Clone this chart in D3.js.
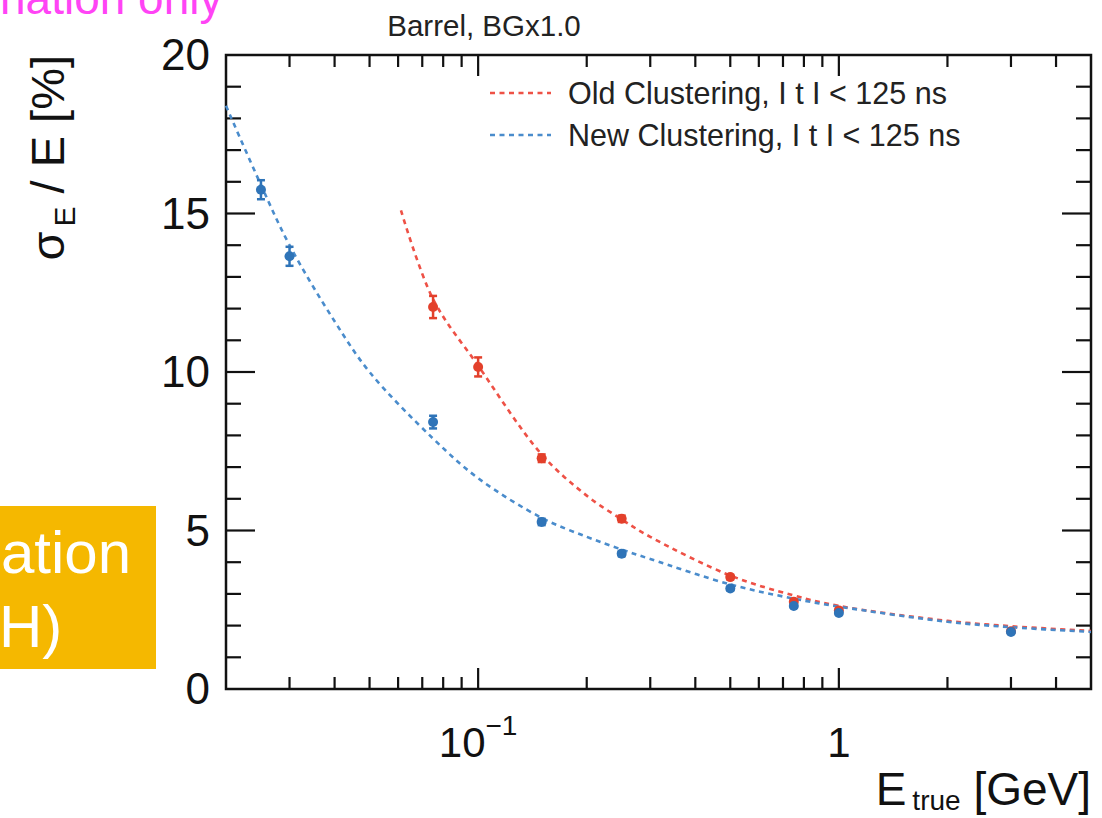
<!DOCTYPE html>
<html><head><meta charset="utf-8">
<script src="https://cdn.jsdelivr.net/npm/d3@7"></script>
<style>body{margin:0;background:#fff;} svg{display:block;font-family:"Liberation Sans",Arial,sans-serif;}</style>
</head><body>
<svg id="c" width="1102" height="818"></svg>
<script>
// ---- data ----
const newE    = [0.025, 0.03, 0.075, 0.15, 0.25, 0.5, 0.75, 1, 3];
const newRes  = [15.75, 13.65, 8.42, 5.27, 4.27, 3.17, 2.62, 2.4, 1.8];
const newErr  = [0.3, 0.3, 0.2, 0.1, 0.08, 0.06, 0.05, 0.05, 0.05];
const oldE    = [0.075, 0.1, 0.15, 0.25, 0.5, 0.75, 1, 3];
const oldRes  = [12.05, 10.16, 7.28, 5.37, 3.53, 2.75, 2.48, 1.82];
const oldErr  = [0.35, 0.3, 0.12, 0.1, 0.07, 0.06, 0.05, 0.05];
// fit curves
const newFitE = [0.02, 0.025, 0.03, 0.04, 0.05, 0.075, 0.1, 0.15, 0.2, 0.25, 0.3, 0.5, 0.75, 1, 2, 3, 5];
const newFitY = [18.4, 15.9, 14.0, 11.6, 10.0, 7.9, 6.65, 5.4, 4.8, 4.4, 4.1, 3.3, 2.85, 2.6, 2.12, 1.95, 1.8];
const oldFitE = [0.0611, 0.075, 0.1, 0.15, 0.2, 0.25, 0.3, 0.5, 0.75, 1, 2, 3, 5];
const oldFitY = [15.1, 12.3, 10.2, 7.4, 6.1, 5.35, 4.8, 3.58, 2.95, 2.62, 2.15, 1.98, 1.83];
const yTicks  = [0, 5, 10, 15, 20];
const seriesNames = ["Old Clustering, I t I < 125 ns", "New Clustering, I t I < 125 ns"];

const redPt = "#e3402b", redLn = "#ee5146";
const bluePt = "#2f74b8", blueLn = "#4a8ccc";

const svg = d3.select("#c");
const L = 226, R = 1091, T = 55, B = 689;
const x = d3.scaleLog().domain([0.02, 5]).range([L, R]);
const y = d3.scaleLinear().domain([0, 20]).range([B, T]);

// top-left pink text (cropped slide overlay)
svg.append("text").attr("x", 0).attr("y", 14).attr("font-size", 46)
  .attr("fill", "#ff44f5").text("nation only");

// title
svg.append("text").attr("x", 484).attr("y", 36).attr("text-anchor", "middle")
  .attr("font-size", 29.5).attr("fill", "#222").text("Barrel, BGx1.0");

// ticks: x (bottom and top)
const minor = [];
[0.01, 0.1, 1].forEach(d => { for (let k = 1; k <= 9; k++) { const v = d * k; if (v >= 0.02 && v <= 5) minor.push(v); } });
const g = svg.append("g").attr("stroke", "#111").attr("stroke-width", 2.2);
minor.forEach(v => {
  const major = Math.abs(Math.log10(v) - Math.round(Math.log10(v))) < 1e-9;
  const len = major ? 21 : 12;
  const px = x(v);
  if (px <= L + 1 || px >= R - 1) return;
  g.append("line").attr("x1", px).attr("x2", px).attr("y1", B).attr("y2", B - len);
  g.append("line").attr("x1", px).attr("x2", px).attr("y1", T).attr("y2", T + len);
});
// y ticks
d3.range(0, 21, 1).forEach(v => {
  const len = v % 5 === 0 ? 29 : 15;
  const py = y(v);
  if (v === 0 || v === 20) return;
  g.append("line").attr("x1", L).attr("x2", L + len).attr("y1", py).attr("y2", py);
  g.append("line").attr("x1", R).attr("x2", R - len).attr("y1", py).attr("y2", py);
});
svg.append("rect").attr("x", L).attr("y", T).attr("width", R - L).attr("height", B - T)
  .attr("fill", "none").attr("stroke", "#111").attr("stroke-width", 2.5);

// tick labels
yTicks.forEach(v => {
  svg.append("text").attr("x", 210).attr("y", y(v) + 15).attr("text-anchor", "end")
    .attr("font-size", 44).attr("fill", "#111").text(v);
});
const t1 = svg.append("text").attr("x", x(0.1)).attr("y", 757).attr("text-anchor", "middle")
  .attr("font-size", 42).attr("fill", "#111");
t1.append("tspan").text("10");
t1.append("tspan").attr("font-size", 28).attr("dy", -22).text("\u22121");
svg.append("text").attr("x", x(1)).attr("y", 757).attr("text-anchor", "middle")
  .attr("font-size", 42).attr("fill", "#111").text("1");

// axis titles
const xt = svg.append("text").attr("x", R).attr("y", 805).attr("text-anchor", "end")
  .attr("font-size", 46).attr("fill", "#111");
xt.append("tspan").text("E");
xt.append("tspan").attr("font-size", 28).attr("dy", 5).attr("dx", 6).text("true");
xt.append("tspan").attr("dy", -5).text(" [GeV]");

const yt = svg.append("text").attr("transform", "translate(64,55) rotate(-90)")
  .attr("text-anchor", "end").attr("font-size", 47).attr("fill", "#111");
yt.append("tspan").text("\u03c3");
yt.append("tspan").attr("font-size", 30).attr("dy", 11).attr("dx", 5).text("E");
yt.append("tspan").attr("dy", -11).text(" / E [%]");

// fit curves
const line = d3.line().x(d => x(d[0])).y(d => y(d[1])).curve(d3.curveCatmullRom);
svg.append("path").datum(oldFitE.map((e, i) => [e, oldFitY[i]])).attr("d", line)
  .attr("fill", "none").attr("stroke", redLn).attr("stroke-width", 2.6).attr("stroke-dasharray", "5,4.5");
svg.append("path").datum(newFitE.map((e, i) => [e, newFitY[i]])).attr("d", line)
  .attr("fill", "none").attr("stroke", blueLn).attr("stroke-width", 2.6).attr("stroke-dasharray", "5,4.5");

// points with error bars
function drawPts(E, V, Er, col) {
  const gp = svg.append("g");
  E.forEach((e, i) => {
    const px = x(e), py = y(V[i]), hi = y(V[i] + Er[i]), lo = y(V[i] - Er[i]);
    gp.append("line").attr("x1", px).attr("x2", px).attr("y1", hi).attr("y2", lo)
      .attr("stroke", col).attr("stroke-width", 2.5);
    gp.append("line").attr("x1", px - 4).attr("x2", px + 4).attr("y1", hi).attr("y2", hi)
      .attr("stroke", col).attr("stroke-width", 2.5);
    gp.append("line").attr("x1", px - 4).attr("x2", px + 4).attr("y1", lo).attr("y2", lo)
      .attr("stroke", col).attr("stroke-width", 2.5);
    gp.append("circle").attr("cx", px).attr("cy", py).attr("r", 5).attr("fill", col);
  });
}
drawPts(oldE, oldRes, oldErr, redPt);
drawPts(newE, newRes, newErr, bluePt);

// legend
[[redLn, 93], [blueLn, 135]].forEach((d, i) => {
  svg.append("line").attr("x1", 490).attr("x2", 551).attr("y1", d[1]).attr("y2", d[1])
    .attr("stroke", d[0]).attr("stroke-width", 2.6).attr("stroke-dasharray", "5,4.5");
  svg.append("text").attr("x", 568).attr("y", d[1] + 11).attr("font-size", 30.5)
    .attr("fill", "#222").text(seriesNames[i]);
});

// orange overlay box
svg.append("rect").attr("x", 0).attr("y", 506).attr("width", 156).attr("height", 163).attr("fill", "#f5b800");
svg.append("text").attr("x", 1).attr("y", 573).attr("font-size", 60).attr("fill", "#fff").text("ation");
svg.append("text").attr("x", -1).attr("y", 647).attr("font-size", 60).attr("fill", "#fff").text("H)");
</script>
</body></html>
